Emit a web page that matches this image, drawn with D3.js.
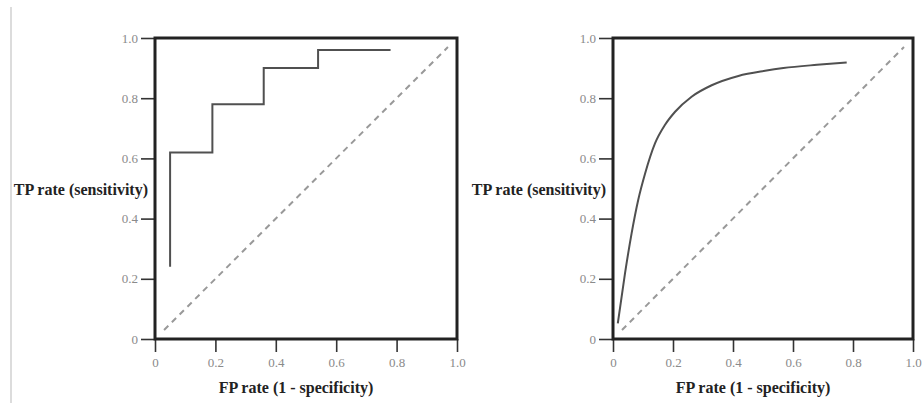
<!DOCTYPE html>
<html>
<head>
<meta charset="utf-8">
<script src="https://cdn.jsdelivr.net/npm/d3@7"></script>
<style>
  html, body { margin: 0; padding: 0; background: #fff; }
  svg { display: block; }
</style>
</head>
<body>
<svg id="chart" width="922" height="405"></svg>
<script>
// ---- data ----
const tickValues = [0, 0.2, 0.4, 0.6, 0.8, 1.0];
const tickLabels = ["0", "0.2", "0.4", "0.6", "0.8", "1.0"];

// Left panel: empirical (step) ROC curve
const stepFPR = [0.05, 0.05, 0.19, 0.36, 0.54, 0.78];
const stepTPR = [0.24, 0.62, 0.78, 0.90, 0.96, 0.96];

// Right panel: smooth ROC curve
const smoothFPR = [0.016, 0.04, 0.062, 0.084, 0.107, 0.14, 0.173, 0.207, 0.262, 0.329, 0.418, 0.507, 0.568, 0.68, 0.779];
const smoothTPR = [0.052, 0.218, 0.351, 0.462, 0.55, 0.65, 0.711, 0.755, 0.805, 0.843, 0.874, 0.891, 0.900, 0.911, 0.919];

// Chance diagonal
const diagFPR = [0.03, 0.97];
const diagTPR = [0.03, 0.97];

const xTitle = "FP rate (1 - specificity)";
const yTitle = "TP rate (sensitivity)";

// ---- drawing ----
const svg = d3.select("#chart");
const serif = "'Liberation Serif', 'Times New Roman', serif";

svg.append("line")
  .attr("x1", 11).attr("x2", 11).attr("y1", 7).attr("y2", 403)
  .attr("stroke", "#dcdcdc").attr("stroke-width", 2);

const panels = [
  { left: 155, right: 457, fpr: stepFPR, tpr: stepTPR, curve: d3.curveStepAfter },
  { left: 613, right: 913, fpr: smoothFPR, tpr: smoothTPR, curve: d3.curveMonotoneX }
];
const plotTop = 38, plotBottom = 339;

panels.forEach(p => {
  const x = d3.scaleLinear().domain([0, 1]).range([p.left, p.right]);
  const y = d3.scaleLinear().domain([0, 1]).range([plotBottom, plotTop]);
  const g = svg.append("g");

  // y axis
  const ya = g.append("g")
    .attr("transform", `translate(${p.left},0)`)
    .call(d3.axisLeft(y).tickValues(tickValues)
      .tickFormat((d, i) => tickLabels[i]).tickSize(14).tickPadding(3));
  // x axis
  const xa = g.append("g")
    .attr("transform", `translate(0,${plotBottom})`)
    .call(d3.axisBottom(x).tickValues(tickValues)
      .tickFormat((d, i) => tickLabels[i]).tickSize(13).tickPadding(6));
  [ya, xa].forEach(a => {
    a.select(".domain").remove();
    a.selectAll(".tick line").attr("stroke", "#333").attr("stroke-width", 1.6);
    a.selectAll(".tick text")
      .attr("fill", "#8a8a8a")
      .style("font-family", serif)
      .style("font-size", "13px");
  });

  // diagonal
  const line = d3.line().x(d => x(d[0])).y(d => y(d[1]));
  g.append("path")
    .attr("d", line(d3.zip(diagFPR, diagTPR)))
    .attr("fill", "none").attr("stroke", "#999")
    .attr("stroke-width", 2).attr("stroke-dasharray", "6,5");

  // ROC curve
  g.append("path")
    .attr("d", line.curve(p.curve)(d3.zip(p.fpr, p.tpr)))
    .attr("fill", "none").attr("stroke", "#505050")
    .attr("stroke-width", 2);

  // frame
  g.append("rect")
    .attr("x", p.left).attr("y", plotTop)
    .attr("width", p.right - p.left).attr("height", plotBottom - plotTop)
    .attr("fill", "none").attr("stroke", "#222").attr("stroke-width", 3);

  // titles
  g.append("text")
    .attr("x", (p.left + p.right) / 2 - 10).attr("y", 393)
    .attr("text-anchor", "middle")
    .style("font-family", serif).style("font-weight", "bold").style("font-size", "16px")
    .attr("fill", "#222")
    .text(xTitle);
  g.append("text")
    .attr("x", p.left - 7).attr("y", 195)
    .attr("text-anchor", "end")
    .style("font-family", serif).style("font-weight", "bold").style("font-size", "16px")
    .attr("fill", "#222")
    .text(yTitle);
});
</script>
</body>
</html>
